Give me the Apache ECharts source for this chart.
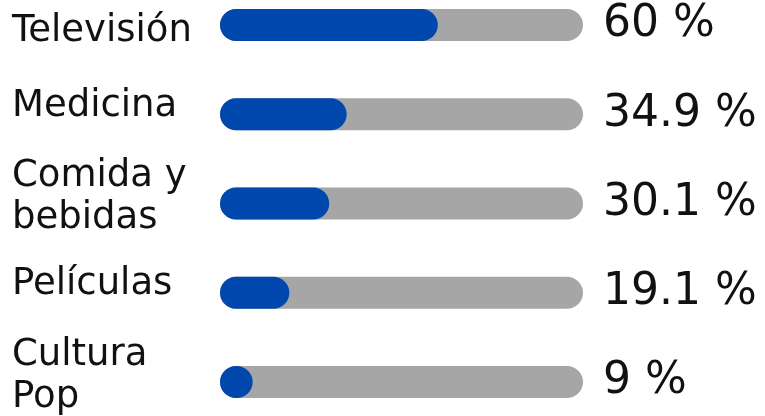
<!DOCTYPE html>
<html>
<head>
    <meta charset="utf-8">
    <script src="https://cdn.jsdelivr.net/npm/echarts@6/dist/echarts.min.js"></script>
</head>
<body style="margin:0;background-color:#ffffff">
    <div id="main" style="width:765px;height:416px;"></div>
    <script type="text/javascript">
        var categories = ['Televisión', 'Medicina', 'Comida y\nbebidas', 'Películas', 'Cultura\nPop'];
        var values = [60, 34.9, 30.1, 19.1, 9];
        var valueLabels = ['60 %', '34.9 %', '30.1 %', '19.1 %', '9 %'];

        var myChart = echarts.init(document.getElementById('main'));

        var labelFont = { color: '#111', fontFamily: 'DejaVu Sans', fontSize: 37, lineHeight: 42 };

        // first label sits a little below its bar, the others a little above
        function catLabel(value, index) {
            var style = index === 0 ? 'first' : (value.indexOf('\n') >= 0 ? 'two' : 'one');
            return value.split('\n').map(function (s) {
                return '{' + style + '|' + s + '}';
            }).join('\n');
        }

        var option = {
            animation: false,
            grid: { left: 220, right: 182, top: 25, bottom: 34, containLabel: false, outerBoundsMode: 'none' },
            xAxis: {
                type: 'value',
                min: 0,
                max: 100,
                show: false
            },
            yAxis: [
                {
                    type: 'category',
                    data: categories,
                    inverse: true,
                    boundaryGap: false,
                    axisLine: { show: false },
                    axisTick: { show: false },
                    axisLabel: {
                        align: 'left',
                        margin: 208,
                        color: '#111',
                        fontFamily: 'DejaVu Sans',
                        fontSize: 37,
                        lineHeight: 42,
                        formatter: catLabel,
                        rich: {
                            first: Object.assign({ padding: [12, 0, 0, 0] }, labelFont),
                            one: Object.assign({ padding: [0, 0, 16, 0] }, labelFont),
                            two: Object.assign({ padding: [0, 0, 12, 0] }, labelFont)
                        }
                    }
                },
                {
                    type: 'category',
                    data: valueLabels,
                    inverse: true,
                    boundaryGap: false,
                    position: 'right',
                    axisLine: { show: false },
                    axisTick: { show: false },
                    axisLabel: {
                        align: 'left',
                        margin: 20,
                        color: '#111',
                        fontFamily: 'DejaVu Sans',
                        fontSize: 44
                    }
                }
            ],
            series: [{
                type: 'bar',
                data: values,
                barWidth: 32,
                clip: false,
                showBackground: true,
                backgroundStyle: { color: '#a6a6a6', borderRadius: 16 },
                itemStyle: { color: '#0048ad', borderRadius: 16 }
            }]
        };

        myChart.setOption(option);
    </script>
</body>
</html>
